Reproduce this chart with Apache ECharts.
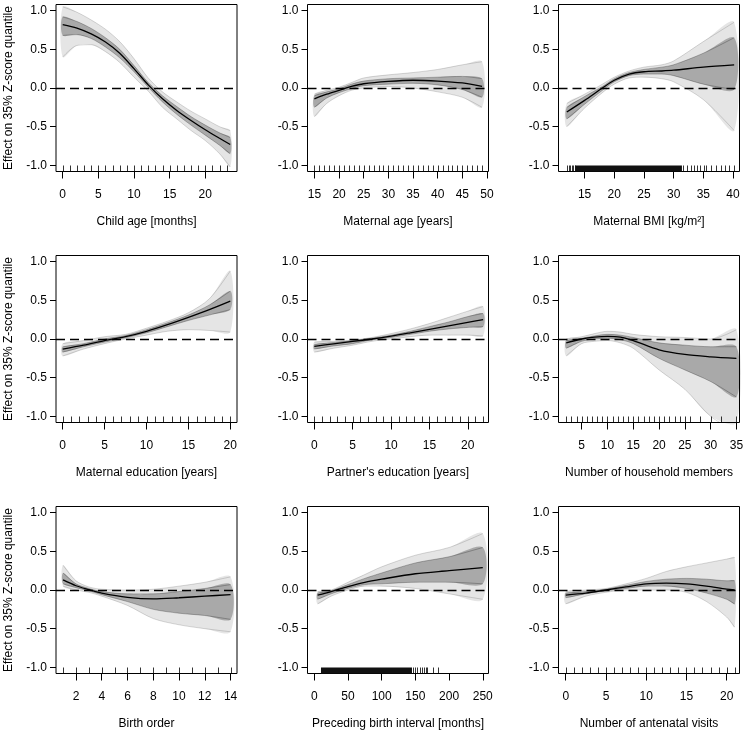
<!DOCTYPE html>
<html>
<head>
<meta charset="utf-8">
<script src="https://cdn.jsdelivr.net/npm/echarts@6/dist/echarts.min.js"></script>
<style>
html, body { margin: 0; padding: 0; background: #fff; }
#main { width: 745px; height: 735px; }
</style>
</head>
<body>
<div id="main"></div>
<script>
// child age [months]
var ageX      = [0, 2, 4, 6, 8, 10, 12, 14, 16, 18, 20, 22, 23.5];
var ageMean   = [0.82, 0.775, 0.70, 0.595, 0.45, 0.25, 0.04, -0.14, -0.29, -0.42, -0.54, -0.65, -0.73];
var ageHi     = [1.05, 0.98, 0.88, 0.76, 0.60, 0.38, 0.13, -0.05, -0.18, -0.30, -0.40, -0.50, -0.55];
var ageLo     = [0.40, 0.55, 0.56, 0.47, 0.33, 0.14, -0.04, -0.25, -0.40, -0.55, -0.68, -0.85, -1.02];
var ageHiIn   = [0.92, 0.86, 0.77, 0.65, 0.50, 0.29, 0.07, -0.10, -0.24, -0.37, -0.48, -0.58, -0.64];
var ageLoIn   = [0.68, 0.69, 0.64, 0.53, 0.39, 0.21, 0.01, -0.18, -0.34, -0.48, -0.61, -0.74, -0.85];
var ageRug    = [0, 1, 2, 3, 4, 5, 6, 7, 8, 9, 10, 11, 12, 13, 14, 15, 16, 17, 18, 19, 20, 21, 22, 23];

// maternal age [years]
var mageX     = [15, 17.5, 20, 22.5, 25, 30, 35, 40, 45, 49];
var mageMean  = [-0.14, -0.08, -0.03, 0.02, 0.055, 0.085, 0.10, 0.09, 0.065, 0.02];
var mageHi    = [-0.08, -0.03, 0.01, 0.07, 0.13, 0.17, 0.20, 0.24, 0.30, 0.34];
var mageLo    = [-0.37, -0.20, -0.10, -0.03, 0.0, 0.02, 0.0, -0.05, -0.12, -0.25];
var mageHiIn  = [-0.10, -0.05, -0.01, 0.05, 0.09, 0.12, 0.13, 0.14, 0.15, 0.12];
var mageLoIn  = [-0.25, -0.13, -0.06, -0.01, 0.03, 0.05, 0.06, 0.04, -0.02, -0.12];
var mageRug   = [15, 16, 17, 18, 19, 20, 21, 22, 23, 24, 25, 26, 27, 28, 29, 30, 31, 32, 33, 34, 35, 36, 37, 38, 39, 40, 41, 42, 43, 44, 45, 46, 47, 48, 49];

// maternal BMI
var bmiX      = [12, 15, 18, 20, 22.5, 25, 28, 30, 35, 40.2];
var bmiMean   = [-0.31, -0.16, 0.0, 0.10, 0.18, 0.21, 0.22, 0.23, 0.27, 0.30];
var bmiHi     = [-0.20, -0.08, 0.05, 0.14, 0.22, 0.27, 0.30, 0.35, 0.60, 0.85];
var bmiLo     = [-0.50, -0.26, -0.06, 0.05, 0.13, 0.14, 0.12, 0.08, -0.15, -0.55];
var bmiHiIn   = [-0.25, -0.11, 0.02, 0.12, 0.20, 0.24, 0.27, 0.30, 0.45, 0.65];
var bmiLoIn   = [-0.40, -0.21, -0.03, 0.08, 0.16, 0.18, 0.18, 0.16, 0.05, -0.02];
var bmiRug    = [12.0, 12.3, 12.6, 12.9, 13.1, 13.3, 31.6, 32.2, 32.9, 33.4, 34.0, 34.5, 35.1, 35.5, 36.3, 37.1, 37.9, 38.6, 39.3, 40.1];
var bmiRugSpan = [[13.4, 31.4]];

// maternal education [years]
var medX      = [0, 2.5, 5, 7.5, 10, 12.5, 15, 17.5, 20];
var medMean   = [-0.13, -0.08, -0.02, 0.03, 0.10, 0.185, 0.28, 0.38, 0.49];
var medHi     = [-0.06, -0.02, 0.03, 0.06, 0.14, 0.23, 0.34, 0.52, 0.88];
var medLo     = [-0.22, -0.13, -0.06, 0.0, 0.05, 0.10, 0.12, 0.11, 0.09];
var medHiIn   = [-0.10, -0.06, 0.0, 0.045, 0.12, 0.21, 0.31, 0.44, 0.62];
var medLoIn   = [-0.17, -0.10, -0.04, 0.015, 0.08, 0.16, 0.24, 0.31, 0.38];
var medRug    = [0, 1, 2, 3, 4, 5, 6, 7, 8, 9, 10, 11, 12, 13, 14, 15, 16, 17, 18, 19, 20];

// partner's education [years]
var pedX      = [0, 2.5, 5, 7.5, 10, 12.5, 15, 17.5, 20, 22];
var pedMean   = [-0.095, -0.063, -0.032, 0.0, 0.037, 0.08, 0.125, 0.17, 0.215, 0.25];
var pedHi     = [-0.04, -0.03, -0.015, 0.02, 0.07, 0.13, 0.20, 0.28, 0.36, 0.42];
var pedLo     = [-0.17, -0.12, -0.08, -0.03, 0.0, 0.03, 0.05, 0.05, 0.05, 0.04];
var pedHiIn   = [-0.07, -0.045, -0.02, 0.01, 0.05, 0.10, 0.16, 0.22, 0.29, 0.33];
var pedLoIn   = [-0.13, -0.09, -0.06, -0.01, 0.02, 0.06, 0.10, 0.13, 0.15, 0.16];
var pedRug    = [0, 1, 2, 3, 4, 5, 6, 7, 8, 9, 10, 11, 12, 13, 14, 15, 16, 17, 18, 19, 20, 21, 22];

// number of household members
var hhX       = [2, 5, 7.5, 10, 12.5, 15, 20, 25, 30, 35];
var hhMean    = [-0.05, 0.0, 0.025, 0.035, 0.025, -0.02, -0.14, -0.20, -0.23, -0.25];
var hhHi      = [0.0, 0.03, 0.07, 0.10, 0.09, 0.06, 0.03, 0.02, 0.0, 0.12];
var hhLo      = [-0.22, -0.06, -0.03, -0.02, -0.05, -0.12, -0.40, -0.65, -1.0, -1.2];
var hhHiIn    = [-0.02, 0.01, 0.04, 0.06, 0.05, 0.02, -0.05, -0.08, -0.10, -0.10];
var hhLoIn    = [-0.12, -0.03, 0.0, 0.01, -0.01, -0.06, -0.25, -0.40, -0.55, -0.75];
var hhRug     = [2, 3, 4, 5, 6, 7, 8, 9, 10, 11, 12, 13, 14, 15, 16, 17, 18, 19, 20, 21, 22, 23, 24, 25, 26, 28, 30, 32, 35];

// birth order
var boX       = [1, 2, 3, 4, 6, 8, 10, 12, 14];
var boMean    = [0.13, 0.055, 0.005, -0.04, -0.095, -0.115, -0.10, -0.08, -0.06];
var boHi      = [0.32, 0.12, 0.04, 0.01, 0.0, 0.01, 0.05, 0.10, 0.17];
var boLo      = [0.05, 0.0, -0.03, -0.08, -0.20, -0.37, -0.45, -0.50, -0.54];
var boHiIn    = [0.22, 0.08, 0.02, -0.02, -0.05, -0.05, -0.02, 0.02, 0.07];
var boLoIn    = [0.08, 0.03, -0.01, -0.06, -0.15, -0.25, -0.30, -0.33, -0.38];
var boRug     = [1, 2, 3, 4, 5, 6, 7, 8, 9, 10, 11, 12, 13, 14];

// preceding birth interval [months]
var pbiX      = [5, 25, 50, 75, 100, 150, 200, 250];
var pbiMean   = [-0.065, -0.02, 0.045, 0.10, 0.14, 0.21, 0.25, 0.29];
var pbiHi     = [-0.02, 0.0, 0.10, 0.20, 0.30, 0.45, 0.55, 0.73];
var pbiLo     = [-0.18, -0.08, 0.0, 0.05, 0.05, 0.02, -0.05, -0.12];
var pbiHiIn   = [-0.04, -0.01, 0.07, 0.15, 0.22, 0.35, 0.43, 0.55];
var pbiLoIn   = [-0.12, -0.05, 0.02, 0.07, 0.08, 0.10, 0.10, 0.08];
var pbiRug    = [147, 150, 153, 157, 160, 163, 166, 168, 176, 184];
var pbiRugSpan = [[10, 145]];

// number of antenatal visits
var anvX      = [0, 2.5, 5, 7.5, 10, 12.5, 15, 17.5, 20, 21];
var anvMean   = [-0.065, -0.04, 0.0, 0.04, 0.08, 0.09, 0.08, 0.05, 0.01, 0.0];
var anvHi     = [-0.02, 0.0, 0.02, 0.08, 0.15, 0.24, 0.30, 0.35, 0.40, 0.42];
var anvLo     = [-0.18, -0.08, -0.03, 0.0, 0.0, 0.0, -0.03, -0.15, -0.35, -0.48];
var anvHiIn   = [-0.04, -0.02, 0.01, 0.06, 0.11, 0.14, 0.15, 0.14, 0.12, 0.12];
var anvLoIn   = [-0.10, -0.05, -0.01, 0.02, 0.05, 0.05, 0.02, -0.04, -0.12, -0.18];
var anvRug    = [0, 1, 2, 3, 4, 5, 6, 7, 8, 9, 10, 11, 12, 13, 14, 15, 16, 17, 18, 19, 20, 21];

var yTicks = [-1, -0.5, 0, 0.5, 1];
var Y_MIN = -1.08, Y_MAX = 1.08;

var panels = [
	{ name: 'Child age [months]', x: ageX, mean: ageMean, hi: ageHi, lo: ageLo, hiIn: ageHiIn, loIn: ageLoIn, rug: ageRug, span: [], min: -0.94, max: 24.45, ticks: [0, 5, 10, 15, 20] },
	{ name: 'Maternal age [years]', x: mageX, mean: mageMean, hi: mageHi, lo: mageLo, hiIn: mageHiIn, loIn: mageLoIn, rug: mageRug, span: [], min: 13.6, max: 50.3, ticks: [15, 20, 25, 30, 35, 40, 45, 50] },
	{ name: 'Maternal BMI [kg/m\u00B2]', x: bmiX, mean: bmiMean, hi: bmiHi, lo: bmiLo, hiIn: bmiHiIn, loIn: bmiLoIn, rug: bmiRug, span: bmiRugSpan, min: 10.6, max: 41.1, ticks: [15, 20, 25, 30, 35, 40] },
	{ name: 'Maternal education [years]', x: medX, mean: medMean, hi: medHi, lo: medLo, hiIn: medHiIn, loIn: medLoIn, rug: medRug, span: [], min: -0.8, max: 20.8, ticks: [0, 5, 10, 15, 20] },
	{ name: "Partner's education [years]", x: pedX, mean: pedMean, hi: pedHi, lo: pedLo, hiIn: pedHiIn, loIn: pedLoIn, rug: pedRug, span: [], min: -0.89, max: 22.7, ticks: [0, 5, 10, 15, 20] },
	{ name: 'Number of household members', x: hhX, mean: hhMean, hi: hhHi, lo: hhLo, hiIn: hhHiIn, loIn: hhLoIn, rug: hhRug, span: [], min: 0.5, max: 35.6, ticks: [5, 10, 15, 20, 25, 30, 35] },
	{ name: 'Birth order', x: boX, mean: boMean, hi: boHi, lo: boLo, hiIn: boHiIn, loIn: boLoIn, rug: boRug, span: [], min: 0.45, max: 14.5, ticks: [2, 4, 6, 8, 10, 12, 14] },
	{ name: 'Preceding birth interval [months]', x: pbiX, mean: pbiMean, hi: pbiHi, lo: pbiLo, hiIn: pbiHiIn, loIn: pbiLoIn, rug: pbiRug, span: pbiRugSpan, min: -10, max: 258.5, ticks: [0, 50, 100, 150, 200, 250] },
	{ name: 'Number of antenatal visits', x: anvX, mean: anvMean, hi: anvHi, lo: anvLo, hiIn: anvHiIn, loIn: anvLoIn, rug: anvRug, span: [], min: -0.9, max: 21.6, ticks: [0, 5, 10, 15, 20] }
];

var colLeft = [56, 307.5, 558.5];
var rowTop = [4.5, 255.5, 506.5];
var boxW = 181, boxH = 167;

function pairs(xs, ys) {
	return xs.map(function (v, k) { return [v, ys[k]]; });
}
function clampY(v) {
	return Math.max(Y_MIN, Math.min(Y_MAX, v));
}

// filled band between two curves, drawn through the axis scales
function bandSeries(i, xs, hi, lo, fill) {
	return {
		type: 'custom', xAxisIndex: i, yAxisIndex: i, silent: true, z: 2,
		data: [[xs[0], lo[0]]],
		renderItem: function (params, api) {
			var pts = [], k;
			for (k = 0; k < xs.length; k++) pts.push(api.coord([xs[k], clampY(hi[k])]));
			for (k = xs.length - 1; k >= 0; k--) pts.push(api.coord([xs[k], clampY(lo[k])]));
			return { type: 'polygon', shape: { points: pts, smooth: 0.3 }, style: { fill: fill } };
		}
	};
}

var grids = [], xAxes = [], yAxes = [], series = [];

panels.forEach(function (p, i) {
	var col = i % 3, row = Math.floor(i / 3);
	grids.push({
		left: colLeft[col], top: rowTop[row], width: boxW, height: boxH,
		show: true, borderColor: '#000', borderWidth: 1, backgroundColor: 'transparent',
		containLabel: false, outerBoundsMode: 'none'
	});
	xAxes.push({
		gridIndex: i, type: 'value', min: p.min, max: p.max,
		name: p.name, nameLocation: 'middle', nameGap: 44,
		nameTextStyle: { color: '#000', fontSize: 12 },
		axisLine: { show: false, onZero: false },
		splitLine: { show: false },
		axisTick: { show: true, inside: false, length: 7, customValues: p.ticks, lineStyle: { color: '#000', width: 1 } },
		axisLabel: { show: true, margin: 17, color: '#000', fontSize: 12, customValues: p.ticks }
	});
	yAxes.push({
		gridIndex: i, type: 'value', min: Y_MIN, max: Y_MAX,
		name: col === 0 ? 'Effect on 35% Z-score quantile' : '',
		nameLocation: 'middle', nameGap: 41,
		nameTextStyle: { color: '#000', fontSize: 12 },
		axisLine: { show: false, onZero: false },
		splitLine: { show: false },
		axisTick: { show: true, inside: false, length: 6, customValues: yTicks, lineStyle: { color: '#000', width: 1 } },
		axisLabel: { show: true, margin: 9, color: '#000', fontSize: 12, customValues: yTicks,
			formatter: function (v) { return v.toFixed(1); } }
	});

	// spread of the sample curves: outer range and dense core
	series.push(bandSeries(i, p.x, p.hi, p.lo, 'rgba(0,0,0,0.10)'));
	series.push(bandSeries(i, p.x, p.hiIn, p.loIn, 'rgba(0,0,0,0.26)'));

	var edge = { type: 'line', xAxisIndex: i, yAxisIndex: i, smooth: 0.3, symbol: 'none', silent: true, z: 3 };
	series.push(Object.assign({}, edge, { data: pairs(p.x, p.hi), lineStyle: { color: 'rgba(0,0,0,0.15)', width: 1 } }));
	series.push(Object.assign({}, edge, { data: pairs(p.x, p.lo), lineStyle: { color: 'rgba(0,0,0,0.15)', width: 1 } }));
	series.push(Object.assign({}, edge, { data: pairs(p.x, p.hiIn), lineStyle: { color: 'rgba(0,0,0,0.25)', width: 1 } }));
	series.push(Object.assign({}, edge, { data: pairs(p.x, p.loIn), lineStyle: { color: 'rgba(0,0,0,0.25)', width: 1 } }));

	// posterior mean + zero reference
	series.push({
		type: 'line', xAxisIndex: i, yAxisIndex: i, smooth: 0.3, symbol: 'none', silent: true, z: 5,
		data: pairs(p.x, p.mean),
		lineStyle: { color: '#000', width: 1.3 },
		markLine: {
			silent: true, symbol: 'none', label: { show: false },
			lineStyle: { color: '#000', width: 1.4, type: [9, 5] },
			data: [{ yAxis: 0 }]
		}
	});

	// rug of observed covariate values
	series.push({
		type: 'custom', xAxisIndex: i, yAxisIndex: i, silent: true, z: 6,
		data: p.rug.map(function (v) { return [v, Y_MIN]; }),
		renderItem: function (params, api) {
			var pt = api.coord([api.value(0), Y_MIN]);
			var x = Math.round(pt[0]) + 0.5;
			return { type: 'line', shape: { x1: x, y1: pt[1], x2: x, y2: pt[1] - 6 },
				style: { stroke: '#000', lineWidth: 0.8 } };
		}
	});
	if (p.span.length) {
		series.push({
			type: 'custom', xAxisIndex: i, yAxisIndex: i, silent: true, z: 6,
			data: p.span,
			renderItem: function (params, api) {
				var a = api.coord([p.span[params.dataIndex][0], Y_MIN]);
				var b = api.coord([p.span[params.dataIndex][1], Y_MIN]);
				return { type: 'rect', shape: { x: a[0], y: a[1] - 6, width: b[0] - a[0], height: 6 },
					style: { fill: '#111' } };
			}
		});
	}
});

var myChart = echarts.init(document.getElementById('main'), null, { renderer: 'canvas' });
var option = {
	animation: false,
	backgroundColor: '#fff',
	textStyle: { fontFamily: 'Liberation Sans, Arial, sans-serif' },
	grid: grids,
	xAxis: xAxes,
	yAxis: yAxes,
	series: series
};
myChart.setOption(option);
</script>
</body>
</html>
